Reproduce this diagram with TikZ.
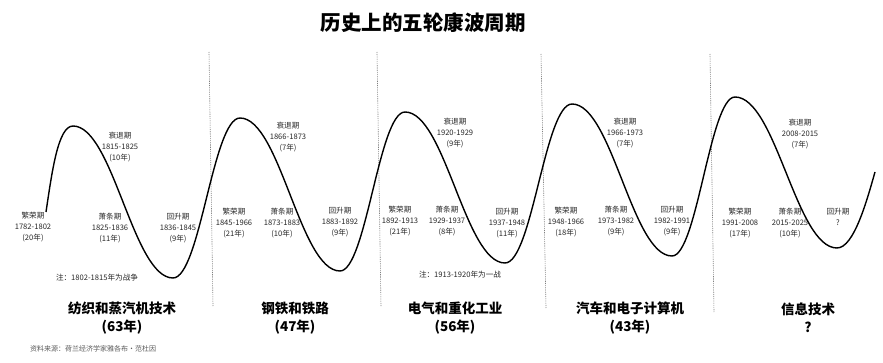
\documentclass[tikz,border=0pt]{standalone}
\usepackage{fontspec}
\newfontfamily\cjk{Noto Sans CJK SC}
\begin{document}
\begin{tikzpicture}[x=1pt,y=-1pt,
  wave/.style={line width=1.4pt,black},
  sep/.style={densely dashed,gray,line width=0.6pt,dash pattern=on 1.2pt off 1pt},
  phase/.style={font=\cjk\fontsize{7.6}{11}\selectfont,align=center,text=black!85,inner sep=0pt},
  note/.style={font=\cjk\fontsize{7.6}{10}\selectfont,text=black!85,inner sep=0pt},
  tech/.style={font=\cjk\bfseries\fontsize{13.5}{18}\selectfont,align=center,inner sep=0pt},
  ttl/.style={font=\cjk\bfseries\fontsize{20.5}{24}\selectfont,inner sep=0pt},
  src/.style={font=\cjk\fontsize{7}{9}\selectfont,text=black!65,inner sep=0pt}]
\useasboundingbox (0,0) rectangle (883,363);
% title
\node[ttl] (title) at (423,23) {历史上的五轮康波周期};
% separators
\draw[sep] (209,52) -- (213,306);
\draw[sep] (377,52) -- (381,307);
\draw[sep] (541,54) -- (546,308);
\draw[sep] (710,54) -- (714,312);
% wave
\draw[wave] (46,212) .. controls (52,172) and (58,126) .. (73,126)
  .. controls (113,126) and (133,278) .. (173,278)
  .. controls (200,278) and (213,118) .. (240,118)
  .. controls (280,118) and (300,271) .. (340,271)
  .. controls (366,271) and (379,112) .. (405,112)
  .. controls (445,112) and (465,263) .. (505,263)
  .. controls (532,263) and (545,104) .. (572,104)
  .. controls (612,104) and (632,256) .. (672,256)
  .. controls (697,256) and (710,97) .. (735,97)
  .. controls (776,97) and (796,248) .. (837,248)
  .. controls (854,248) and (867,200) .. (875,172);
% wave 1
\node[phase] (p11) at (33,227) {繁荣期\\1782-1802\\(20年)};
\node[phase] (p12) at (120,147) {衰退期\\1815-1825\\(10年)};
\node[phase] (p13) at (110,228) {萧条期\\1825-1836\\(11年)};
\node[phase] (p14) at (178,228) {回升期\\1836-1845\\(9年)};
\node[note] (n1) at (97,278) {注：1802-1815年为战争};
% wave 2
\node[phase] (p21) at (234,223) {繁荣期\\1845-1966\\(21年)};
\node[phase] (p22) at (288,137) {衰退期\\1866-1873\\(7年)};
\node[phase] (p23) at (282,223) {萧条期\\1873-1883\\(10年)};
\node[phase] (p24) at (340,222) {回升期\\1883-1892\\(9年)};
% wave 3
\node[phase] (p31) at (400,221) {繁荣期\\1892-1913\\(21年)};
\node[phase] (p32) at (455,133) {衰退期\\1920-1929\\(9年)};
\node[phase] (p33) at (447,221) {萧条期\\1929-1937\\(8年)};
\node[phase] (p34) at (507,223) {回升期\\1937-1948\\(11年)};
\node[note] (n3) at (460,275) {注：1913-1920年为一战};
% wave 4
\node[phase] (p41) at (566,222) {繁荣期\\1948-1966\\(18年)};
\node[phase] (p42) at (625,133) {衰退期\\1966-1973\\(7年)};
\node[phase] (p43) at (616,221) {萧条期\\1973-1982\\(9年)};
\node[phase] (p44) at (672,221) {回升期\\1982-1991\\(9年)};
% wave 5
\node[phase] (p51) at (740,223) {繁荣期\\1991-2008\\(17年)};
\node[phase] (p52) at (800,134) {衰退期\\2008-2015\\(7年)};
\node[phase] (p53) at (790,223) {萧条期\\2015-2025\\(10年)};
\node[phase] (p54) at (838,216.5) {回升期\\?};
% technologies
\node[tech] (t1) at (122,318) {纺织和蒸汽机技术\\(63年)};
\node[tech] (t2) at (295,318) {钢铁和铁路\\(47年)};
\node[tech] (t3) at (455,318) {电气和重化工业\\(56年)};
\node[tech] (t4) at (630,318) {汽车和电子计算机\\(43年)};
\node[tech] (t5) at (808,318) {信息技术\\?};
% source
\node[src,anchor=west] (source) at (30,349) {资料来源：荷兰经济学家雅各布·范杜因};
\end{tikzpicture}
\end{document}
